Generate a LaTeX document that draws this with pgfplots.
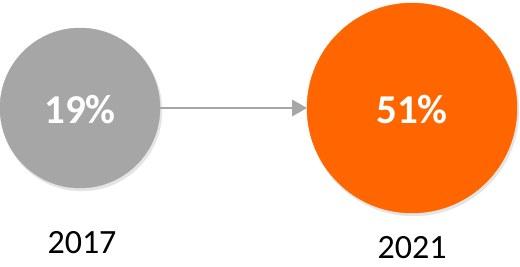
\documentclass[border=0pt]{standalone}
\usepackage{pgfplots}
\pgfplotsset{compat=1.18}
\usepackage{fontspec}
\setmainfont{Carlito}
\definecolor{cgray}{HTML}{A6A6A6}
\definecolor{corange}{HTML}{FF6600}
\definecolor{cshadow}{HTML}{E4E4E4}
\begin{document}
\begin{tikzpicture}
\begin{axis}[
  width=520pt, height=266pt, scale only axis,
  xmin=0, xmax=520, ymin=0, ymax=266,
  axis lines=none, clip=false, clip mode=individual,
]
\path (axis cs:0,0) rectangle (axis cs:520,266);
% soft shadows
\addplot[only marks, color=cshadow, mark=*, mark size=80.5pt, mark options={draw=cshadow, fill=cshadow}] coordinates {(81.5,155.5)};
\addplot[only marks, color=cshadow, mark=*, mark size=105.5pt, mark options={draw=cshadow, fill=cshadow}] coordinates {(413.5,155.5)};
% arrow
\draw[cgray, line width=2pt] (axis cs:160,158) -- (axis cs:294,158);
\fill[cgray] (axis cs:292,166.5) -- (axis cs:307,158) -- (axis cs:292,149.5) -- cycle;
% bubbles
\addplot[only marks, color=cgray, mark=*, mark size=80pt, mark options={draw=cgray, fill=cgray}]
  coordinates {(80,158)};
\addplot[only marks, color=corange, mark=*, mark size=105pt, mark options={draw=corange, fill=corange}]
  coordinates {(412,158)};
\node[text=white, font=\fontsize{41}{48}\selectfont\bfseries, anchor=center] at (axis cs:80,156) {19\%};
\node[text=white, font=\fontsize{41}{48}\selectfont\bfseries, anchor=center] at (axis cs:412,156) {51\%};
\node[font=\fontsize{34}{40}\selectfont, anchor=center] at (axis cs:82,23) {2017};
\node[font=\fontsize{34}{40}\selectfont, anchor=center] at (axis cs:412,18) {2021};
\end{axis}
\end{tikzpicture}
\end{document}
